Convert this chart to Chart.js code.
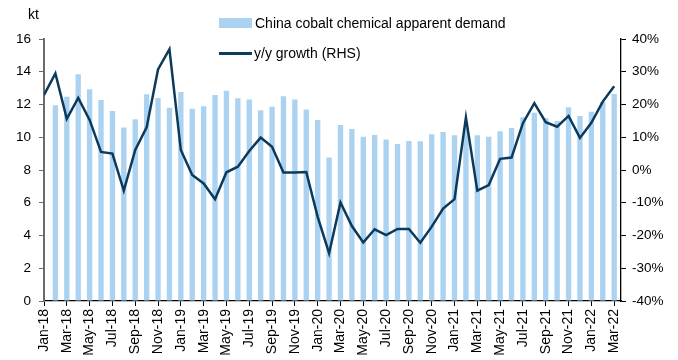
<!DOCTYPE html>
<html>
<head>
<meta charset="utf-8">
<script src="https://cdn.jsdelivr.net/npm/chart.js@4.4.0/dist/chart.umd.min.js"></script>
<style>
  html, body { margin: 0; padding: 0; background: #fff; }
  #wrap { position: relative; width: 678px; height: 360px; font-family: "Liberation Sans", Arial, sans-serif; color: #000; }
  #unit { position: absolute; left: 28px; top: 6px; font-size: 14px; }
  .leg { position: absolute; left: 219px; height: 20px; font-size: 14px; display: flex; align-items: center; white-space: nowrap; }
  .swatch-bar { width: 33px; height: 10px; background: #abd3f1; margin-right: 3px; }
  .swatch-line { width: 33px; height: 3px; background: #0b3a5d; margin-right: 2px; }
</style>
</head>
<body>
<div id="wrap">
  <canvas id="chart" width="678" height="360"></canvas>
  <div id="unit">kt</div>
  <div class="leg" style="top:13px"><span class="swatch-bar"></span>China cobalt chemical apparent demand</div>
  <div class="leg" style="top:43px"><span class="swatch-line"></span>y/y growth (RHS)</div>
</div>
<script>
const months = [
  'Jan-18', 'Feb-18', 'Mar-18', 'Apr-18', 'May-18', 'Jun-18', 'Jul-18', 'Aug-18', 'Sep-18', 'Oct-18', 'Nov-18', 'Dec-18',
  'Jan-19', 'Feb-19', 'Mar-19', 'Apr-19', 'May-19', 'Jun-19', 'Jul-19', 'Aug-19', 'Sep-19', 'Oct-19', 'Nov-19', 'Dec-19',
  'Jan-20', 'Feb-20', 'Mar-20', 'Apr-20', 'May-20', 'Jun-20', 'Jul-20', 'Aug-20', 'Sep-20', 'Oct-20', 'Nov-20', 'Dec-20',
  'Jan-21', 'Feb-21', 'Mar-21', 'Apr-21', 'May-21', 'Jun-21', 'Jul-21', 'Aug-21', 'Sep-21', 'Oct-21', 'Nov-21', 'Dec-21',
  'Jan-22', 'Feb-22', 'Mar-22'
];

// apparent demand, kt (left axis)
const demand = [
  null, 11.95, 12.48, 13.84, 12.93, 12.27, 11.6, 10.6, 11.1, 12.62, 12.4, 11.8,
  12.76, 11.74, 11.9, 12.58, 12.84, 12.38, 12.3, 11.65, 11.87, 12.5, 12.3, 11.7,
  11.05, 8.77, 10.75, 10.5, 10.03, 10.14, 9.87, 9.59, 9.77, 9.75, 10.18, 10.32,
  10.12, 10.6, 10.12, 10.03, 10.36, 10.56, 11.22, 11.5, 11.16, 10.99, 11.83, 11.3,
  11.56, 12.15, 12.64
];

// y/y growth, % (right axis)
const growth = [
  22.9, 29.5, 15.6, 22.0, 15.3, 5.5, 5.0, -6.3, 6.1, 13.0, 30.7, 36.9,
  6.1, -1.5, -4.1, -8.9, -0.7, 1.0, 5.8, 9.9, 7.1, -0.8, -0.8, -0.6,
  -14.3, -25.4, -9.9, -17.1, -22.1, -18.1, -19.9, -18.0, -18.0, -22.2, -17.3, -11.8,
  -8.9, 16.0, -6.3, -4.6, 3.4, 3.8, 14.3, 20.4, 14.6, 13.2, 16.5, 9.8,
  14.4, 20.9, 25.6
];

const leftTicks = { min: 0, max: 16, step: 2 };
const rightTicks = { min: -40, max: 40, step: 10 };

const font = { family: "'Liberation Sans', Arial, sans-serif", size: 14 };

new Chart(document.getElementById('chart').getContext('2d'), {
  data: {
    datasets: [
      {
        type: 'line',
        label: 'y/y growth (RHS)',
        data: growth.map((v, i) => ({ x: i, y: v })),
        yAxisID: 'y1',
        borderColor: '#0b3a5d',
        borderWidth: 2.5,
        pointRadius: 0,
        tension: 0,
        order: 1
      },
      {
        type: 'bar',
        label: 'China cobalt chemical apparent demand',
        data: demand.map((v, i) => ({ x: i, y: v })),
        yAxisID: 'y',
        backgroundColor: '#abd3f1',
        barPercentage: 0.47,
        categoryPercentage: 1,
        order: 2
      }
    ]
  },
  options: {
    responsive: false,
    animation: false,
    devicePixelRatio: 1,
    layout: { padding: { top: 39, left: 0, right: 0, bottom: 0 } },
    plugins: {
      legend: { display: false },
      tooltip: { enabled: false }
    },
    scales: {
      x: {
        type: 'linear',
        offset: false,
        min: 0,
        max: 50.6,
        afterFit: s => { s.height = 59; },
        border: { display: true, color: '#000', width: 1.3 },
        grid: { display: true, offset: false, drawOnChartArea: false, drawTicks: true, tickLength: 5, color: '#000' },
        ticks: {
          stepSize: 2,
          includeBounds: false,
          autoSkip: false,
          minRotation: 90,
          maxRotation: 90,
          padding: 3,
          color: '#000',
          font: font,
          callback: v => (Number.isInteger(v) && v % 2 === 0 ? months[v] : null)
        }
      },
      y: {
        position: 'left',
        min: leftTicks.min,
        max: leftTicks.max,
        afterFit: s => { s.width = 44; },
        border: { display: true, color: '#6b6b6b', width: 2 },
        grid: { display: true, drawOnChartArea: false, drawTicks: true, tickLength: 5, color: '#6b6b6b' },
        ticks: { stepSize: leftTicks.step, padding: 8, color: '#000', font: { ...font, size: 13.5 } }
      },
      y1: {
        position: 'right',
        min: rightTicks.min,
        max: rightTicks.max,
        afterFit: s => { s.width = 57; },
        border: { display: true, color: '#000', width: 1.3 },
        grid: { display: true, drawOnChartArea: false, drawTicks: true, tickLength: 5, color: '#000' },
        ticks: {
          stepSize: rightTicks.step,
          padding: 6,
          color: '#000',
          font: { ...font, size: 13.5 },
          callback: v => v + '%'
        }
      }
    }
  }
});
</script>
</body>
</html>
